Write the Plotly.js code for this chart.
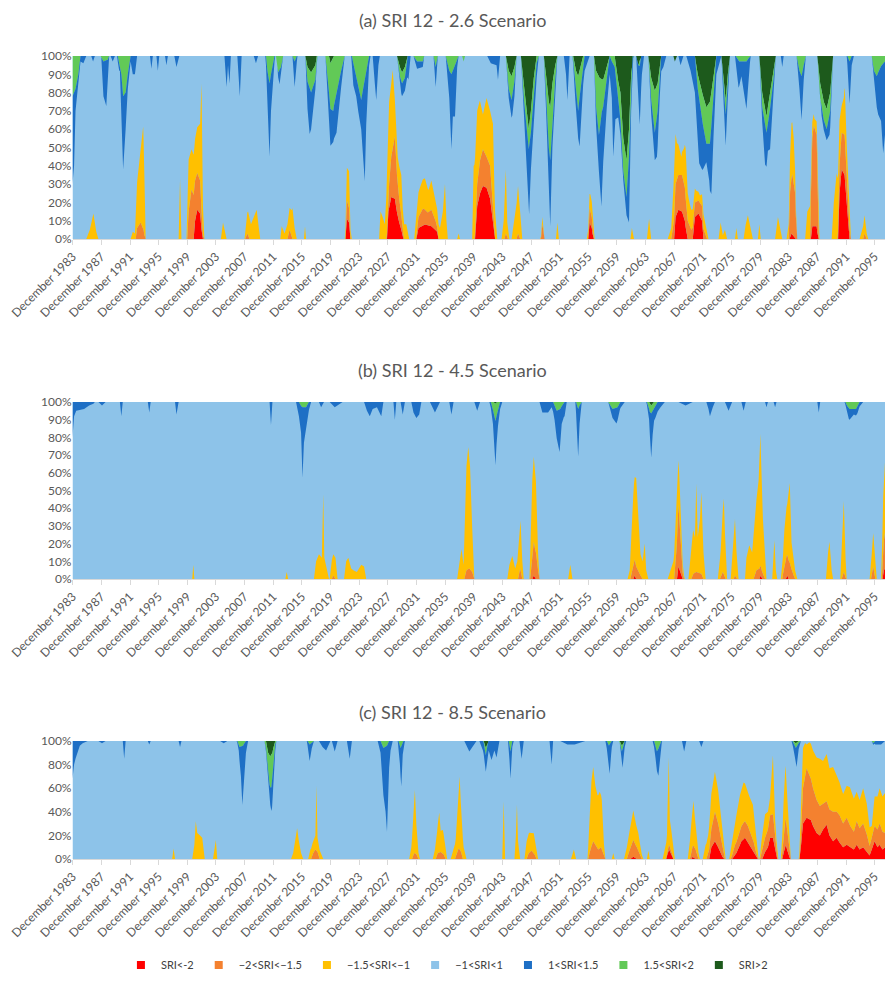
<!DOCTYPE html>
<html>
<head>
<meta charset="utf-8">
<script src="https://cdn.plot.ly/plotly-3.0.1.min.js"></script>
<style>html,body{margin:0;padding:0;background:#fff}#chart{width:885px;height:983px}</style>
</head>
<body>
<div id="chart"></div>
<script>
// ---------- DATA (percent of area in each SRI class, [year, %]) ----------
const seriesNames = ["SRI<-2", "\u22122<SRI<\u22121.5", "\u22121.5<SRI<\u22121", "\u22121<SRI<1", "1<SRI<1.5", "1.5<SRI<2", "SRI>2"];
const panelTitles = ["(a) SRI 12 - 2.6 Scenario", "(b) SRI 12 - 4.5 Scenario", "(c) SRI 12 - 8.5 Scenario"];
const tickYears = [1983,1987,1991,1995,1999,2003,2007,2011,2015,2019,2023,2027,2031,2035,2039,2043,2047,2051,2055,2059,2063,2067,2071,2075,2079,2083,2087,2091,2095];
const tickLabels = ["December 1983","December 1987","December 1991","December 1995","December 1999","December 2003","December 2007","December 2011","December 2015","December 2019","December 2023","December 2027","December 2031","December 2035","December 2039","December 2043","December 2047","December 2051","December 2055","December 2059","December 2063","December 2067","December 2071","December 2075","December 2079","December 2083","December 2087","December 2091","December 2095"];
const yTicks10 = [0,10,20,30,40,50,60,70,80,90,100];
const yLabels10 = ["0%","10%","20%","30%","40%","50%","60%","70%","80%","90%","100%"];
const yTicks20 = [0,20,40,60,80,100];
const yLabels20 = ["0%","20%","40%","60%","80%","100%"];
const fullShare = [100, 100];

// ----- Panel (a) 2.6 -----
const a_red = [[2000.8,0],[2001.0,10],[2001.3,16],[2001.7,14],[2001.9,5],[2002.1,0],[2022.0,0],[2022.2,11],[2022.5,9],[2022.7,0],[2027.8,0],[2028.0,15],[2028.4,23],[2028.9,22],[2029.3,12],[2029.8,5],[2030.0,0],[2031.9,0],[2032.2,6],[2033.0,8],[2034.0,7],[2034.8,4],[2035.0,0],[2040.1,0],[2040.4,18],[2040.8,25],[2041.2,29],[2041.7,28],[2042.2,22],[2042.6,8],[2042.8,0],[2055.9,0],[2056.1,9],[2056.4,6],[2056.6,0],[2067.9,0],[2068.1,12],[2068.5,16],[2069.0,15],[2069.4,10],[2069.7,0],[2070.5,0],[2070.8,12],[2071.3,14],[2071.8,10],[2072.0,0],[2084.0,0],[2084.3,3],[2084.8,0],[2087.0,0],[2087.2,7],[2087.8,7],[2088.0,0],[2090.8,0],[2091.0,25],[2091.3,38],[2091.7,35],[2092.1,15],[2092.4,0]];
const a_orange = [[1992.7,0],[1992.9,6],[1993.4,9],[1993.8,5],[1994.0,0],[1999.9,0],[2000.1,15],[2000.5,27],[2001.0,22],[2001.3,20],[2001.7,18],[2001.9,10],[2002.1,2],[2002.3,0],[2008.0,0],[2008.3,3],[2008.6,0],[2013.9,0],[2014.2,5],[2014.5,0],[2022.0,0],[2022.2,10],[2022.5,8],[2022.7,0],[2027.7,0],[2028.0,10],[2028.4,22],[2028.9,34],[2029.2,20],[2029.5,13],[2029.8,8],[2030.2,0],[2031.8,0],[2032.2,6],[2032.8,9],[2033.5,7],[2034.0,9],[2034.6,5],[2035.0,0],[2040.0,0],[2040.4,12],[2040.8,18],[2041.2,20],[2041.7,17],[2042.2,18],[2042.6,7],[2042.9,0],[2044.2,0],[2044.4,3],[2044.7,0],[2045.9,0],[2046.1,3],[2046.4,0],[2049.3,0],[2049.5,8],[2049.8,0],[2055.9,0],[2056.1,8],[2056.4,6],[2056.7,0],[2067.5,0],[2067.8,8],[2068.1,18],[2068.5,19],[2069.0,20],[2069.4,18],[2069.8,10],[2070.3,5],[2070.8,8],[2071.3,7],[2071.8,8],[2072.2,3],[2072.5,0],[2083.9,0],[2084.1,25],[2084.4,33],[2084.8,25],[2085.0,0],[2086.9,0],[2087.1,45],[2087.4,55],[2087.8,50],[2088.1,0],[2090.7,0],[2091.0,15],[2091.3,20],[2091.7,22],[2092.1,15],[2092.4,5],[2092.6,0],[2094.3,0],[2094.5,3],[2094.7,0]];
const a_yellow = [[1985.8,0],[1986.3,5],[1986.8,14],[1987.2,4],[1987.5,0],[1992.0,0],[1992.3,4],[1992.6,3],[1992.9,25],[1993.4,40],[1993.75,56],[1993.9,40],[1994.1,0],[1998.7,0],[1998.9,33],[1999.1,0],[1999.8,0],[2000.0,30],[2000.5,22],[2000.9,22],[2001.3,25],[2001.7,31],[2001.9,70],[2002.05,20],[2002.3,0],[2004.6,0],[2004.9,9],[2005.2,3],[2005.4,0],[2007.9,0],[2008.2,10],[2008.4,13],[2008.8,8],[2009.2,12],[2009.6,16],[2009.9,6],[2010.1,0],[2012.9,0],[2013.1,7],[2013.5,3],[2013.9,8],[2014.2,12],[2014.6,17],[2014.9,6],[2015.2,0],[2016.2,0],[2016.35,7],[2016.5,0],[2021.9,0],[2022.2,18],[2022.5,20],[2022.7,5],[2022.9,0],[2026.7,0],[2026.9,15],[2027.2,12],[2027.5,8],[2027.8,30],[2028.1,45],[2028.4,40],[2028.6,43],[2028.9,20],[2029.3,15],[2029.8,22],[2030.1,8],[2030.5,8],[2030.9,0],[2031.6,0],[2031.9,12],[2032.5,15],[2033.1,17],[2033.6,12],[2034.0,16],[2034.7,11],[2035.2,6],[2035.6,15],[2035.9,30],[2036.1,10],[2036.3,0],[2037.6,0],[2037.8,3],[2038.0,0],[2039.7,0],[2039.9,40],[2040.3,42],[2040.75,34],[2041.2,19],[2041.7,32],[2042.2,30],[2042.6,48],[2042.9,15],[2043.2,0],[2043.8,0],[2044.1,10],[2044.4,35],[2044.6,8],[2044.9,0],[2045.2,0],[2045.6,10],[2046.1,26],[2046.4,15],[2046.7,0],[2049.2,0],[2049.5,4],[2049.8,0],[2051.4,0],[2051.6,9],[2051.8,0],[2055.7,0],[2055.9,5],[2056.2,9],[2056.5,8],[2056.8,0],[2061.8,0],[2062.0,6],[2062.3,0],[2064.1,0],[2064.4,11],[2064.7,0],[2067.0,0],[2067.5,6],[2067.8,20],[2068.0,31],[2068.3,20],[2068.9,10],[2069.3,20],[2069.5,27],[2069.8,15],[2070.1,12],[2070.5,10],[2071.0,6],[2071.5,4],[2072.0,8],[2072.4,4],[2072.7,0],[2074.1,0],[2074.4,9],[2074.7,2],[2075.0,5],[2075.3,0],[2076.4,0],[2076.6,6],[2076.8,0],[2077.6,0],[2077.9,8],[2078.2,13],[2078.6,5],[2078.9,0],[2079.6,0],[2079.8,8],[2080.0,0],[2082.0,0],[2082.4,12],[2082.7,6],[2083.0,0],[2083.6,0],[2083.9,8],[2084.1,20],[2084.3,30],[2084.6,25],[2084.9,5],[2085.1,0],[2086.2,0],[2086.5,15],[2086.9,18],[2087.1,10],[2087.5,5],[2087.9,8],[2088.2,0],[2089.9,0],[2090.2,20],[2090.6,36],[2091.0,25],[2091.3,15],[2091.6,20],[2091.75,28],[2092.0,15],[2092.3,10],[2092.6,0],[2093.8,0],[2094.1,4],[2094.5,10],[2094.8,3],[2095.0,0]];
const a_blue = [[1983.88,48],[1984.1,40],[1984.3,12],[1984.7,3],[1985.0,3],[1985.4,4],[1985.8,0],[1986.5,0],[1986.75,3],[1987.0,0],[1987.9,0],[1988.2,19],[1988.6,25],[1988.8,10],[1989.0,0],[1989.2,0],[1989.5,3],[1989.8,0],[1990.1,0],[1990.3,6],[1990.5,2],[1990.7,20],[1990.95,40],[1991.3,20],[1991.6,8],[1992.0,3],[1992.3,10],[1992.6,10],[1992.9,0],[1994.7,0],[1994.9,7],[1995.1,0],[1995.6,0],[1995.8,8],[1996.0,0],[1996.8,0],[1997.0,5],[1997.2,0],[1998.1,0],[1998.4,6],[1998.8,0],[2005.1,0],[2005.4,17],[2005.6,5],[2005.8,15],[2006.0,0],[2006.9,0],[2007.25,22],[2007.5,0],[2009.2,0],[2009.5,4],[2009.8,0],[2010.8,0],[2011.1,15],[2011.4,40],[2011.6,20],[2011.9,8],[2012.2,0],[2012.5,0],[2012.8,8],[2013.2,0],[2014.6,0],[2014.9,14],[2015.3,0],[2016.4,0],[2016.7,15],[2017.0,25],[2017.4,15],[2017.8,5],[2018.1,0],[2019.2,0],[2019.5,10],[2019.9,20],[2020.3,17],[2020.75,22],[2021.4,9],[2021.9,0],[2022.8,0],[2023.1,12],[2023.5,10],[2024.2,16],[2024.5,40],[2024.7,56],[2024.9,30],[2025.2,8],[2025.5,0],[2025.8,0],[2026.1,15],[2026.3,24],[2026.6,5],[2026.8,0],[2029.2,0],[2029.8,7],[2030.3,7],[2030.8,13],[2031.1,0],[2031.5,0],[2032.0,4],[2032.8,3],[2033.0,0],[2034.3,0],[2034.6,11],[2034.9,0],[2036.0,0],[2036.5,15],[2036.8,41],[2037.0,25],[2037.3,28],[2037.6,5],[2037.8,0],[2041.8,0],[2042.3,4],[2043.1,5],[2043.3,13],[2043.6,0],[2044.4,0],[2044.8,5],[2045.3,11],[2045.6,8],[2045.9,0],[2046.5,0],[2046.9,10],[2047.3,20],[2047.65,37],[2047.9,20],[2048.3,15],[2048.7,8],[2049.0,0],[2049.7,0],[2050.0,8],[2050.4,20],[2050.6,36],[2050.9,15],[2051.3,5],[2051.6,0],[2052.5,0],[2052.8,10],[2053.0,24],[2053.3,0],[2053.7,0],[2054.1,8],[2054.5,15],[2054.7,27],[2055.0,15],[2055.4,8],[2056.1,0],[2056.7,0],[2057.0,10],[2057.4,20],[2057.75,50],[2058.0,30],[2058.5,15],[2058.9,10],[2059.2,20],[2059.4,50],[2059.7,25],[2060.1,10],[2060.8,5],[2061.25,10],[2061.6,36],[2061.9,15],[2062.2,0],[2062.6,0],[2062.9,15],[2063.1,32],[2063.4,10],[2063.7,0],[2064.3,0],[2064.7,8],[2065.2,15],[2065.5,22],[2065.9,10],[2066.4,6],[2066.8,0],[2068.5,0],[2068.8,5],[2069.2,0],[2069.6,0],[2070.2,8],[2070.8,20],[2071.4,35],[2071.9,25],[2072.4,10],[2072.8,20],[2073.1,37],[2073.4,20],[2073.8,10],[2074.5,0],[2074.7,5],[2075.1,17],[2075.4,8],[2075.7,0],[2076.4,0],[2076.9,15],[2077.3,8],[2078.0,26],[2078.3,10],[2078.6,0],[2079.8,0],[2080.2,8],[2080.6,22],[2081.0,15],[2081.3,22],[2081.8,8],[2082.1,0],[2082.8,0],[2083.0,6],[2083.2,0],[2085.0,0],[2085.4,10],[2085.7,24],[2086.0,8],[2086.3,0],[2087.9,0],[2088.5,5],[2089.2,6],[2089.6,11],[2090.1,0],[2092.0,0],[2092.2,10],[2092.4,23],[2092.7,5],[2093.0,0],[2095.5,0],[2095.8,5],[2096.4,23],[2096.8,30],[2097.1,49],[2097.35,40]];
const a_green = [[1983.88,22],[1984.3,18],[1984.7,10],[1985.0,0],[1987.8,0],[1988.2,3],[1988.8,2],[1989.0,0],[1990.2,0],[1990.4,4],[1990.7,10],[1990.95,22],[1991.3,20],[1991.6,10],[1992.0,0],[2010.9,0],[2011.1,8],[2011.4,15],[2011.6,10],[2011.9,3],[2012.1,0],[2012.3,0],[2012.6,9],[2013.0,6],[2013.3,0],[2014.6,0],[2014.9,3],[2015.2,0],[2016.4,0],[2016.7,8],[2017.2,11],[2017.8,8],[2018.1,0],[2019.2,0],[2019.5,15],[2019.9,25],[2020.3,29],[2020.75,20],[2021.4,8],[2021.9,0],[2022.9,0],[2023.3,8],[2023.8,18],[2024.2,24],[2024.6,15],[2025.0,5],[2025.3,0],[2029.2,0],[2029.6,5],[2029.9,6],[2030.3,6],[2030.7,0],[2031.5,0],[2032.0,3],[2032.8,3],[2033.0,0],[2034.3,0],[2034.6,6],[2034.9,0],[2036.0,0],[2036.5,8],[2036.8,10],[2037.3,5],[2037.7,0],[2038.3,0],[2038.5,3],[2038.7,0],[2044.4,0],[2044.8,10],[2045.2,13],[2045.6,8],[2045.9,0],[2046.5,0],[2046.9,8],[2047.3,10],[2047.6,11],[2047.9,12],[2048.3,10],[2048.7,4],[2049.0,0],[2049.7,0],[2050.0,10],[2050.4,25],[2050.6,29],[2050.9,20],[2051.3,8],[2051.6,0],[2053.7,0],[2054.1,10],[2054.5,19],[2054.9,10],[2055.4,0],[2056.7,0],[2057.0,20],[2057.4,32],[2057.8,18],[2058.3,10],[2058.9,0],[2059.4,5],[2060.0,8],[2060.4,15],[2060.8,18],[2061.25,20],[2061.6,15],[2061.9,5],[2062.1,0],[2062.9,0],[2063.1,3],[2063.3,0],[2064.3,0],[2064.7,12],[2065.2,23],[2065.6,15],[2066.1,0],[2070.8,0],[2071.2,8],[2071.8,15],[2072.4,20],[2072.9,23],[2073.4,12],[2073.8,0],[2074.5,0],[2074.9,6],[2075.1,8],[2075.4,5],[2075.7,0],[2076.5,0],[2077.0,3],[2078.0,3],[2078.5,0],[2079.8,0],[2080.2,8],[2080.8,9],[2081.3,9],[2081.8,4],[2082.1,0],[2085.0,0],[2085.4,8],[2085.7,11],[2086.1,3],[2086.3,0],[2087.9,0],[2088.3,8],[2088.8,10],[2089.2,11],[2089.7,10],[2090.1,0],[2092.1,0],[2092.4,3],[2092.7,0],[2095.5,0],[2095.8,8],[2096.2,11],[2096.7,6],[2097.35,3]];
const a_dkgreen = [[2016.4,0],[2016.7,6],[2017.2,9],[2017.8,5],[2018.0,0],[2019.7,0],[2019.9,4],[2020.2,2],[2020.4,0],[2029.2,0],[2029.6,6],[2029.9,9],[2030.3,6],[2030.6,0],[2044.4,0],[2044.8,8],[2045.2,11],[2045.6,6],[2045.9,0],[2046.5,0],[2046.9,15],[2047.3,30],[2047.6,40],[2047.9,30],[2048.3,12],[2048.7,0],[2049.7,0],[2050.0,10],[2050.4,25],[2050.6,28],[2050.9,15],[2051.3,5],[2051.6,0],[2053.8,0],[2054.2,8],[2054.5,11],[2054.9,5],[2055.2,0],[2056.7,0],[2057.0,8],[2057.5,12],[2058.0,13],[2058.5,6],[2058.9,0],[2059.6,0],[2060.0,12],[2060.4,20],[2060.8,45],[2061.25,57],[2061.6,40],[2061.9,10],[2062.1,0],[2062.6,0],[2062.9,5],[2063.3,0],[2064.3,0],[2064.7,12],[2065.2,19],[2065.6,15],[2066.1,0],[2067.8,0],[2068.0,3],[2068.3,0],[2070.8,0],[2071.2,10],[2071.8,20],[2072.4,28],[2072.9,25],[2073.4,12],[2073.8,0],[2074.5,0],[2074.8,12],[2075.1,24],[2075.4,10],[2075.7,0],[2079.8,0],[2080.2,20],[2080.8,33],[2081.3,20],[2081.8,8],[2082.1,0],[2087.9,0],[2088.3,15],[2088.8,25],[2089.2,29],[2089.7,20],[2090.1,0]];

// ----- Panel (b) 4.5 -----
const b_red = [[2048.1,0],[2048.3,2],[2048.5,0],[2062.2,0],[2062.4,2],[2062.6,0],[2068.3,0],[2068.5,7],[2068.8,3],[2069.0,0],[2079.8,0],[2080.0,2],[2080.2,0],[2083.5,0],[2083.7,2],[2083.9,0],[2097.0,0],[2097.2,5],[2097.35,6]];
const b_orange = [[2020.1,0],[2020.3,2],[2020.5,0],[2038.6,0],[2038.9,5],[2039.3,6],[2039.7,4],[2040.0,0],[2046.1,0],[2046.4,6],[2046.7,0],[2047.8,0],[2048.0,8],[2048.3,19],[2048.6,15],[2048.9,5],[2049.1,0],[2061.8,0],[2062.1,6],[2062.4,9],[2062.8,5],[2063.2,2],[2063.5,0],[2067.9,0],[2068.2,15],[2068.5,35],[2068.7,25],[2069.0,5],[2069.3,0],[2070.3,0],[2070.6,3],[2071.0,4],[2071.7,3],[2072.0,0],[2074.3,0],[2074.7,4],[2075.1,0],[2076.2,0],[2076.4,2],[2076.6,0],[2079.0,0],[2079.4,5],[2079.9,6],[2080.3,3],[2080.6,0],[2083.0,0],[2083.3,8],[2083.6,12],[2084.0,10],[2084.4,4],[2084.8,0],[2091.3,0],[2091.6,4],[2091.9,0],[2095.4,0],[2095.7,7],[2096.0,0],[2096.9,0],[2097.1,15],[2097.35,20]];
const b_yellow = [[2000.6,0],[2000.75,8],[2000.9,0],[2013.6,0],[2013.8,4],[2014.0,0],[2017.6,0],[2017.9,10],[2018.3,14],[2018.7,12],[2018.9,48],[2019.05,12],[2019.4,5],[2019.7,0],[2019.8,0],[2020.0,10],[2020.3,12],[2020.6,12],[2020.9,0],[2021.8,0],[2022.1,10],[2022.4,12],[2022.8,6],[2023.1,5],[2023.6,4],[2024.2,8],[2024.6,7],[2024.9,0],[2037.6,0],[2038.0,12],[2038.2,17],[2038.5,8],[2038.8,55],[2039.15,69],[2039.4,58],[2039.7,25],[2040.0,0],[2044.6,0],[2044.9,8],[2045.3,13],[2045.7,6],[2046.0,10],[2046.3,25],[2046.45,28],[2046.7,10],[2046.9,0],[2047.7,0],[2047.9,30],[2048.1,45],[2048.3,48],[2048.6,40],[2048.9,10],[2049.1,0],[2053.1,0],[2053.4,8],[2053.7,0],[2061.4,0],[2061.7,5],[2061.95,30],[2062.3,45],[2062.6,50],[2062.9,30],[2063.2,12],[2063.5,10],[2063.8,20],[2064.0,5],[2064.3,0],[2067.0,0],[2067.4,5],[2067.8,10],[2068.2,25],[2068.6,25],[2068.8,15],[2069.1,5],[2069.4,0],[2069.9,0],[2070.2,12],[2070.55,25],[2070.8,20],[2071.0,50],[2071.2,20],[2071.5,30],[2071.7,46],[2072.0,15],[2072.3,0],[2074.0,0],[2074.4,15],[2074.7,35],[2074.85,43],[2075.0,25],[2075.3,0],[2075.8,0],[2076.1,20],[2076.4,32],[2076.7,8],[2076.9,0],[2077.8,0],[2078.0,12],[2078.4,19],[2078.8,15],[2079.1,30],[2079.4,40],[2079.7,50],[2079.95,75],[2080.15,40],[2080.4,25],[2080.8,0],[2081.6,0],[2081.8,13],[2081.9,22],[2082.1,5],[2082.3,0],[2082.8,0],[2083.1,10],[2083.4,25],[2083.7,29],[2084.05,45],[2084.3,15],[2084.6,8],[2085.1,0],[2089.1,0],[2089.4,15],[2089.6,21],[2089.9,5],[2090.1,0],[2091.1,0],[2091.4,25],[2091.6,40],[2091.85,10],[2092.0,0],[2095.2,0],[2095.5,12],[2095.7,19],[2096.0,8],[2096.2,0],[2096.8,0],[2097.0,20],[2097.2,38],[2097.35,40]];
const b_blue = [[1983.88,20],[1984.1,8],[1984.4,5],[1985.5,4],[1986.2,2],[1986.8,1],[1987.0,0],[1987.5,0],[1988.0,2],[1988.5,0],[1990.5,0],[1990.7,8],[1990.9,0],[1994.4,0],[1994.6,6],[1994.8,0],[1998.2,0],[1998.4,7],[1998.7,0],[2011.4,0],[2011.6,13],[2011.8,0],[2015.1,0],[2015.5,8],[2015.8,15],[2016.0,40],[2016.2,20],[2016.5,12],[2016.8,6],[2017.2,0],[2018.3,0],[2018.6,3],[2019.0,0],[2019.8,0],[2020.5,3],[2021.6,0],[2024.6,0],[2025.0,5],[2025.4,8],[2025.8,4],[2026.4,3],[2027.0,8],[2027.3,0],[2028.7,0],[2028.9,10],[2029.1,0],[2029.7,0],[2030.0,7],[2030.3,0],[2031.2,0],[2031.5,6],[2031.9,9],[2032.3,7],[2032.6,0],[2033.8,0],[2034.5,6],[2035.2,0],[2036.5,0],[2036.8,7],[2037.1,0],[2040.0,0],[2040.4,5],[2040.8,0],[2042.1,0],[2042.6,8],[2042.95,25],[2043.2,10],[2043.6,4],[2043.9,0],[2049.1,0],[2049.5,6],[2050.3,6],[2050.8,3],[2051.2,8],[2051.6,18],[2051.9,24],[2052.2,10],[2052.6,8],[2052.9,0],[2054.1,0],[2054.35,15],[2054.5,27],[2054.7,10],[2055.0,0],[2058.7,0],[2059.3,5],[2059.85,9],[2060.3,4],[2061.0,0],[2064.0,0],[2064.4,6],[2064.7,25],[2065.0,8],[2065.5,6],[2066.0,3],[2066.6,0],[2068.5,0],[2069.5,2],[2070.5,0],[2072.4,0],[2072.7,4],[2072.9,8],[2073.3,3],[2073.6,0],[2075.0,0],[2075.5,5],[2076.0,0],[2077.3,0],[2077.6,5],[2077.9,0],[2080.6,0],[2080.8,3],[2081.0,0],[2081.8,0],[2082.0,3],[2082.2,0],[2087.9,0],[2088.1,6],[2088.3,0],[2091.7,0],[2092.1,5],[2092.4,6],[2093.0,3],[2093.5,4],[2094.3,0]];
const b_green = [[2015.5,0],[2015.9,3],[2016.5,3],[2016.9,0],[2042.3,0],[2042.7,6],[2042.95,10],[2043.3,5],[2043.6,0],[2051.0,0],[2051.5,5],[2052.0,4],[2052.5,0],[2054.2,0],[2054.5,4],[2054.9,0],[2058.7,0],[2059.3,4],[2060.0,3],[2060.4,0],[2064.1,0],[2064.5,5],[2064.9,4],[2065.3,2],[2065.6,0],[2091.8,0],[2092.3,4],[2093.3,4],[2093.8,0]];
const b_dkgreen = [[2042.7,0],[2042.9,1],[2043.1,0],[2064.4,0],[2064.7,2],[2065.1,0]];

// ----- Panel (c) 8.5 -----
const c_red = [[2061.8,0],[2062.2,2],[2062.6,0],[2066.8,0],[2067.0,5],[2067.2,8],[2067.5,4],[2067.8,0],[2070.3,0],[2070.5,2],[2070.8,0],[2072.8,0],[2073.1,10],[2073.6,15],[2074.05,10],[2074.5,3],[2074.9,0],[2076.0,0],[2076.6,5],[2077.3,15],[2077.8,18],[2078.4,12],[2079.0,6],[2079.5,0],[2080.2,0],[2080.6,6],[2081.0,10],[2081.3,18],[2081.7,18],[2082.0,8],[2082.3,0],[2083.0,0],[2083.3,8],[2083.5,12],[2083.8,5],[2084.1,0],[2085.4,0],[2085.7,15],[2085.9,30],[2086.4,35],[2087.0,33],[2087.3,28],[2087.8,22],[2088.25,20],[2088.7,25],[2089.2,29],[2089.6,20],[2090.1,15],[2090.6,18],[2091.0,14],[2091.5,10],[2092.0,12],[2092.5,10],[2093.0,8],[2093.4,12],[2093.8,8],[2094.3,10],[2094.8,6],[2095.2,3],[2095.5,8],[2095.9,15],[2096.3,10],[2096.6,12],[2097.0,8],[2097.35,10]];
const c_orange = [[2017.2,0],[2017.5,5],[2017.8,8],[2018.1,6],[2018.4,0],[2031.3,0],[2031.6,5],[2031.9,4],[2032.2,0],[2034.6,0],[2034.9,5],[2035.3,6],[2035.7,4],[2036.0,0],[2037.3,0],[2037.6,6],[2037.8,9],[2038.1,7],[2038.4,0],[2047.3,0],[2047.6,5],[2048.0,7],[2048.4,4],[2048.7,0],[2055.9,0],[2056.2,8],[2056.6,15],[2056.9,12],[2057.3,8],[2057.7,10],[2058.0,4],[2058.3,0],[2061.3,0],[2061.7,8],[2062.2,14],[2062.7,10],[2063.1,4],[2063.4,0],[2066.7,0],[2067.0,4],[2067.2,4],[2067.5,3],[2067.8,0],[2070.1,0],[2070.4,8],[2070.6,10],[2070.9,8],[2071.3,0],[2072.4,0],[2072.8,8],[2073.2,18],[2073.6,25],[2074.05,20],[2074.6,10],[2075.0,0],[2075.8,0],[2076.3,8],[2077.1,12],[2077.6,14],[2078.2,14],[2078.9,10],[2079.4,3],[2079.7,0],[2079.9,0],[2080.3,10],[2080.6,12],[2081.0,15],[2081.3,19],[2081.7,20],[2082.0,10],[2082.4,0],[2082.9,0],[2083.2,15],[2083.45,23],[2083.7,15],[2084.0,5],[2084.2,0],[2085.4,0],[2085.7,15],[2085.9,30],[2086.4,42],[2087.0,35],[2087.3,32],[2087.8,28],[2088.25,25],[2088.7,22],[2089.2,20],[2089.6,22],[2090.1,25],[2090.6,22],[2091.0,23],[2091.5,20],[2092.0,23],[2092.5,18],[2093.0,15],[2093.4,20],[2093.8,18],[2094.3,20],[2094.8,15],[2095.2,8],[2095.5,10],[2095.9,13],[2096.3,15],[2096.6,18],[2097.0,15],[2097.35,12]];
const c_yellow = [[1997.8,0],[1998.0,9],[1998.2,0],[2000.6,0],[2000.9,12],[2001.1,32],[2001.3,22],[2001.7,20],[2002.0,18],[2002.35,0],[2003.5,0],[2003.75,10],[2003.9,16],[2004.1,0],[2014.4,0],[2014.7,5],[2014.9,12],[2015.25,26],[2015.5,15],[2015.8,5],[2016.1,0],[2016.8,0],[2017.1,8],[2017.4,10],[2017.8,12],[2017.95,55],[2018.1,12],[2018.5,6],[2018.9,0],[2030.9,0],[2031.2,10],[2031.45,30],[2031.7,54],[2031.9,25],[2032.1,8],[2032.4,0],[2034.2,0],[2034.5,8],[2034.8,20],[2035.1,34],[2035.3,18],[2035.6,20],[2035.9,12],[2036.2,0],[2036.7,0],[2037.0,6],[2037.4,15],[2037.7,37],[2037.95,62],[2038.15,35],[2038.5,10],[2038.9,0],[2043.9,0],[2044.1,49],[2044.3,0],[2045.6,0],[2045.8,20],[2045.95,46],[2046.1,15],[2046.4,0],[2047.0,0],[2047.3,15],[2047.65,17],[2048.0,15],[2048.3,17],[2048.6,8],[2048.9,0],[2053.5,0],[2053.9,8],[2054.2,0],[2055.8,0],[2056.1,30],[2056.35,55],[2056.6,63],[2056.9,50],[2057.2,45],[2057.5,48],[2057.8,42],[2058.1,10],[2058.3,0],[2059.2,0],[2059.4,5],[2059.6,0],[2060.9,0],[2061.3,10],[2061.6,15],[2062.2,25],[2062.6,18],[2062.9,15],[2063.3,5],[2063.6,0],[2064.1,0],[2064.3,7],[2064.5,0],[2066.3,0],[2066.6,8],[2066.9,15],[2067.05,45],[2067.15,75],[2067.3,23],[2067.6,15],[2068.0,0],[2069.8,0],[2070.1,15],[2070.4,30],[2070.6,38],[2070.9,20],[2071.2,8],[2071.5,0],[2071.9,0],[2072.3,12],[2072.65,15],[2073.1,30],[2073.6,34],[2074.05,28],[2074.65,15],[2075.1,0],[2075.6,0],[2076.0,15],[2076.4,20],[2077.1,30],[2077.6,34],[2078.2,28],[2078.9,29],[2079.3,15],[2079.6,0],[2079.8,0],[2080.1,10],[2080.6,20],[2081.0,15],[2081.3,15],[2081.7,50],[2081.9,20],[2082.2,8],[2082.45,0],[2082.8,0],[2083.0,15],[2083.2,30],[2083.45,45],[2083.7,30],[2084.0,10],[2084.2,0],[2085.3,0],[2085.6,20],[2085.9,34],[2086.2,28],[2086.4,20],[2086.8,28],[2087.3,32],[2087.8,36],[2088.25,40],[2088.7,36],[2089.2,40],[2089.6,35],[2090.1,38],[2090.6,30],[2091.0,28],[2091.5,25],[2092.0,27],[2092.45,32],[2093.0,28],[2093.4,25],[2093.8,24],[2094.3,30],[2094.8,26],[2095.2,16],[2095.5,10],[2095.9,25],[2096.3,28],[2096.6,30],[2097.0,30],[2097.35,34]];
const c_blue = [[1983.88,32],[1984.1,20],[1984.3,15],[1984.9,4],[1985.3,2],[1986.0,0],[1987.5,0],[1988.0,2],[1988.5,0],[1990.9,0],[1991.1,15],[1991.3,0],[1994.4,0],[1994.6,3],[1994.8,0],[1998.7,0],[1998.9,5],[1999.1,0],[2004.5,0],[2005.0,2],[2005.5,0],[2006.8,0],[2007.1,5],[2007.4,25],[2007.6,50],[2007.8,30],[2008.1,10],[2008.4,0],[2010.7,0],[2011.1,5],[2011.5,15],[2011.75,23],[2012.0,12],[2012.35,0],[2016.6,0],[2017.0,14],[2017.3,5],[2017.6,0],[2018.3,0],[2018.8,5],[2019.3,8],[2019.6,4],[2019.9,0],[2020.1,0],[2020.5,9],[2020.9,0],[2022.2,0],[2022.6,15],[2022.9,0],[2026.5,0],[2026.9,10],[2027.3,40],[2027.6,55],[2027.8,73],[2028.0,30],[2028.3,8],[2028.6,0],[2029.3,0],[2029.6,15],[2029.8,34],[2030.0,10],[2030.3,0],[2038.6,0],[2039.3,9],[2040.3,0],[2040.7,0],[2041.2,8],[2041.6,14],[2042.0,8],[2042.4,16],[2042.8,8],[2043.1,14],[2043.5,0],[2044.7,0],[2044.9,12],[2045.05,23],[2045.3,5],[2045.5,0],[2046.3,0],[2046.6,15],[2046.9,0],[2050.5,0],[2050.8,20],[2051.0,0],[2052.0,0],[2053.0,3],[2054.0,3],[2055.5,0],[2058.3,0],[2058.6,10],[2058.9,25],[2059.2,5],[2059.4,0],[2060.3,0],[2060.7,16],[2061.0,5],[2061.2,0],[2064.9,0],[2065.3,10],[2065.7,23],[2066.0,5],[2066.2,0],[2069.0,0],[2069.3,9],[2069.6,0],[2071.4,0],[2071.7,5],[2072.0,0],[2084.3,0],[2084.7,8],[2085.0,17],[2085.3,5],[2085.6,0],[2095.5,0],[2096.0,3],[2096.8,3],[2097.35,0]];
const c_green = [[2006.9,0],[2007.2,5],[2007.7,4],[2008.0,0],[2010.7,0],[2011.0,10],[2011.4,25],[2011.65,28],[2011.9,15],[2012.2,3],[2012.35,0],[2016.7,0],[2017.0,3],[2017.5,0],[2026.9,0],[2027.3,6],[2027.8,4],[2028.1,0],[2029.4,0],[2029.7,6],[2030.1,0],[2041.2,0],[2041.6,6],[2042.0,0],[2044.8,0],[2045.05,9],[2045.3,0],[2058.5,0],[2058.8,4],[2059.1,0],[2060.2,0],[2060.6,5],[2061.0,0],[2065.1,0],[2065.5,9],[2065.9,4],[2066.1,0],[2084.4,0],[2084.9,4],[2085.6,0],[2095.5,0],[2095.7,2],[2095.9,0]];
const c_dkgreen = [[2010.9,0],[2011.2,10],[2011.5,13],[2011.8,10],[2012.1,0],[2041.3,0],[2041.6,6],[2041.9,0],[2060.3,0],[2060.6,4],[2061.0,0],[2084.5,0],[2084.9,2],[2085.3,0]];

// ---------- STYLE ----------
const colors = ["#FF0000", "#F4812F", "#FFC000", "#8DC3E9", "#1E6FC5", "#62C957", "#1D5A1C"];
const X0 = 1983.88, X1 = 2097.35;
const FONT = "Lato, 'Liberation Sans', sans-serif";
const GREY = "#595959";

function xy(pairs) {
  const p = pairs.slice().sort((a, b) => a[0] - b[0]);
  if (p[0][0] > X0) p.unshift([X0, 0]);
  if (p[p.length - 1][0] < X1) p.push([X1, 0]);
  return { x: p.map(d => d[0]), y: p.map(d => d[1]) };
}

const panels = [
  { bottom: [a_red, a_orange, a_yellow], top: [a_dkgreen, a_green, a_blue] },
  { bottom: [b_red, b_orange, b_yellow], top: [b_dkgreen, b_green, b_blue] },
  { bottom: [c_red, c_orange, c_yellow], top: [c_dkgreen, c_green, c_blue] }
];

const traces = [];
panels.forEach((p, i) => {
  const xa = i === 0 ? "x" : "x" + (i + 1);
  const yb = i === 0 ? "y" : "y" + (2 * i + 1);
  const yt = "y" + (2 * i + 2);
  traces.push({ type: "scatter", x: [X0, X1], y: fullShare, mode: "none", fill: "tozeroy",
    fillcolor: colors[3], xaxis: xa, yaxis: yb, showlegend: false, hoverinfo: "skip" });
  p.bottom.forEach((arr, k) => {
    const d = xy(arr);
    traces.push({ type: "scatter", x: d.x, y: d.y, mode: "lines", line: { width: 0, color: colors[k] },
      fillcolor: colors[k], stackgroup: "dry" + i, stackgaps: "interpolate",
      xaxis: xa, yaxis: yb, showlegend: false, name: seriesNames[k] });
  });
  const topIdx = [6, 5, 4];
  p.top.forEach((arr, k) => {
    const d = xy(arr);
    const ci = topIdx[k];
    traces.push({ type: "scatter", x: d.x, y: d.y, mode: "lines", line: { width: 0, color: colors[ci] },
      fillcolor: colors[ci], stackgroup: "wet" + i, stackgaps: "interpolate",
      xaxis: xa, yaxis: yt, showlegend: false, name: seriesNames[ci] });
  });
});
seriesNames.forEach((n, k) => {
  traces.push({ type: "scatter", x: [null], y: [null], mode: "markers", name: n,
    marker: { symbol: "square", size: 8, color: colors[k] }, xaxis: "x3", yaxis: "y5",
    showlegend: true, hoverinfo: "skip" });
});

const H = 983, W = 885;
const xd = [72.5 / W, 1];
const panelPx = [[56, 239, 20], [402, 579, 370], [741, 859, 712]];
const yTickSets = [[yTicks10, yLabels10], [yTicks10, yLabels10], [yTicks20, yLabels20]];
const tickVals = tickYears.map(y => y + 11 / 12);

const layout = {
  width: W, height: H, margin: { l: 0, r: 0, t: 0, b: 0 },
  paper_bgcolor: "#ffffff", plot_bgcolor: "#ffffff",
  font: { family: FONT, color: GREY, size: 12 },
  showlegend: true,
  legend: { orientation: "h", traceorder: "normal", x: 0.505, xanchor: "center", y: 1 - 965 / H, yanchor: "middle",
    font: { family: FONT, size: 11, color: "#404040" }, itemwidth: 30, tracegroupgap: 0,
    bgcolor: "rgba(0,0,0,0)" },
  annotations: [],
  hovermode: false
};
panelPx.forEach((pp, i) => {
  const xk = i === 0 ? "xaxis" : "xaxis" + (i + 1);
  const ybk = i === 0 ? "yaxis" : "yaxis" + (2 * i + 1);
  const ytk = "yaxis" + (2 * i + 2);
  const ybName = i === 0 ? "y" : "y" + (2 * i + 1);
  const xName = i === 0 ? "x" : "x" + (i + 1);
  const dom = [1 - pp[1] / H, 1 - pp[0] / H];
  layout[xk] = { domain: xd, range: [X0, X1], anchor: ybName, tickmode: "array", tickvals: tickVals,
    ticktext: tickLabels, tickangle: -45, ticks: "outside", ticklen: 5, tickcolor: "#d9d9d9",
    showline: true, linecolor: "#d9d9d9", linewidth: 1, showgrid: false, zeroline: false,
    tickfont: { family: FONT, size: 12, color: GREY }, automargin: false, fixedrange: true };
  layout[ybk] = { domain: dom, range: [0, 100], anchor: xName, tickmode: "array",
    tickvals: yTickSets[i][0], ticktext: yTickSets[i][1],
    showgrid: false, zeroline: false, showline: false, ticks: "",
    tickfont: { family: FONT, size: 12, color: GREY }, automargin: false, fixedrange: true };
  layout[ytk] = { domain: dom, overlaying: ybName, anchor: xName, range: [100, 0],
    showgrid: false, zeroline: false, showline: false, showticklabels: false, ticks: "", fixedrange: true };
  layout.annotations.push({ xref: "paper", yref: "paper", x: 452 / W, y: 1 - pp[2] / H,
    xanchor: "center", yanchor: "middle", text: panelTitles[i], showarrow: false,
    font: { family: FONT, size: 18, color: GREY } });
});

Plotly.newPlot("chart", traces, layout, { staticPlot: true, displayModeBar: false });
</script>
</body>
</html>
